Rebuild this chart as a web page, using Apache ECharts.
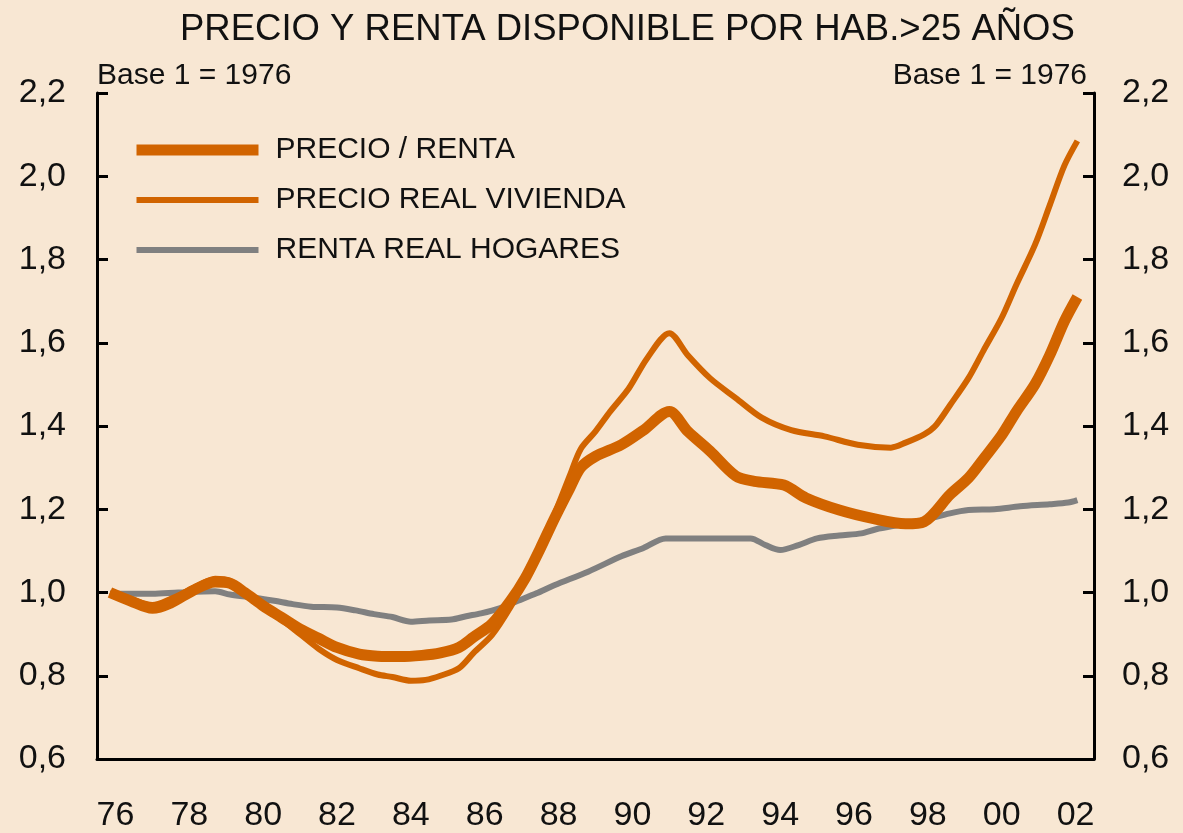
<!DOCTYPE html>
<html>
<head>
<meta charset="utf-8">
<script src="https://cdn.jsdelivr.net/npm/echarts@6/dist/echarts.min.js"></script>
<style>
  html, body { margin: 0; padding: 0; background: #f8e7d3; }
  #chart { width: 1183px; height: 833px; }
</style>
</head>
<body>
<div id="chart"></div>
<script>
// Year labels on the bottom axis (one category per calendar year)
const yearLabels = ['76','77','78','79','80','81','82','83','84','85','86','87','88','89',
  '90','91','92','93','94','95','96','97','98','99','00','01','02'];

// PRECIO / RENTA  (index, base 1976 = 1)
const precioRenta = [
  [1976.35, 1.000], [1976.9, 0.980], [1977.5, 0.962], [1978.0, 0.975], [1978.6, 1.005],
  [1979.2, 1.025], [1979.6, 1.022], [1980.0, 1.000], [1980.5, 0.968], [1981.0, 0.940],
  [1981.5, 0.912], [1982.0, 0.890], [1982.5, 0.868], [1983.1, 0.852], [1983.6, 0.847],
  [1984.2, 0.846], [1984.8, 0.849], [1985.3, 0.855], [1985.8, 0.868], [1986.2, 0.893],
  [1986.7, 0.925], [1987.2, 0.980], [1987.6, 1.035], [1988.0, 1.105], [1988.4, 1.180],
  [1988.8, 1.250], [1989.1, 1.300], [1989.5, 1.327], [1990.2, 1.355], [1990.8, 1.390],
  [1991.5, 1.435], [1992.0, 1.387], [1992.6, 1.340], [1993.3, 1.280], [1993.8, 1.267],
  [1994.6, 1.258], [1995.2, 1.227], [1996.1, 1.198], [1997.0, 1.178], [1997.9, 1.165],
  [1998.4, 1.170], [1999.1, 1.235], [1999.6, 1.275], [2000.0, 1.320], [2000.5, 1.378],
  [2000.9, 1.435], [2001.4, 1.500], [2001.8, 1.570], [2002.2, 1.652], [2002.55, 1.710]
];

// PRECIO REAL VIVIENDA
const precioReal = [
  [1976.35, 1.000], [1976.9, 0.985], [1977.5, 0.970], [1978.0, 0.985], [1978.6, 1.010],
  [1979.2, 1.033], [1979.6, 1.028], [1980.0, 1.003], [1980.5, 0.968], [1981.0, 0.935],
  [1981.5, 0.900], [1982.0, 0.865], [1982.5, 0.838], [1983.1, 0.818], [1983.6, 0.803],
  [1984.0, 0.797], [1984.5, 0.788], [1984.9, 0.790], [1985.3, 0.800], [1985.8, 0.818],
  [1986.2, 0.855], [1986.7, 0.898], [1987.2, 0.965], [1987.6, 1.030], [1988.0, 1.105],
  [1988.4, 1.190], [1988.8, 1.280], [1989.1, 1.345], [1989.5, 1.387], [1989.9, 1.435],
  [1990.4, 1.490], [1990.9, 1.563], [1991.5, 1.623], [1992.0, 1.570], [1992.6, 1.515],
  [1993.3, 1.467], [1994.0, 1.420], [1994.8, 1.390], [1995.7, 1.375], [1996.6, 1.355],
  [1997.5, 1.348], [1997.9, 1.360], [1998.4, 1.380], [1998.7, 1.400], [1999.1, 1.450],
  [1999.6, 1.515], [2000.0, 1.580], [2000.5, 1.660], [2000.9, 1.740], [2001.4, 1.835],
  [2001.8, 1.930], [2002.2, 2.026], [2002.55, 2.085]
];

// RENTA REAL HOGARES
const rentaReal = [
  [1976.35, 0.997], [1977.5, 0.997], [1978.2, 1.000], [1979.2, 1.003], [1979.6, 0.995],
  [1980.3, 0.987], [1980.8, 0.980], [1981.3, 0.972], [1981.8, 0.966], [1982.5, 0.964],
  [1983.0, 0.957], [1983.5, 0.948], [1984.0, 0.941], [1984.5, 0.930], [1985.0, 0.933],
  [1985.6, 0.935], [1986.0, 0.943], [1986.4, 0.950], [1986.9, 0.962], [1987.4, 0.980],
  [1987.9, 0.998], [1988.4, 1.018], [1989.3, 1.050], [1990.2, 1.087], [1990.8, 1.107],
  [1991.4, 1.130], [1992.5, 1.130], [1993.7, 1.130], [1994.1, 1.114], [1994.5, 1.102],
  [1995.0, 1.114], [1995.5, 1.130], [1996.1, 1.137], [1996.7, 1.142], [1997.1, 1.152],
  [1997.7, 1.162], [1998.3, 1.172], [1999.1, 1.190], [1999.6, 1.198], [2000.3, 1.200],
  [2001.0, 1.207], [2001.8, 1.212], [2002.3, 1.216], [2002.55, 1.222]
];

const seriesNames = ['PRECIO / RENTA', 'PRECIO REAL VIVIENDA', 'RENTA REAL HOGARES'];
const titleText = 'PRECIO Y RENTA DISPONIBLE POR HAB.>25 AÑOS';
const baseNote = 'Base 1 = 1976';

const FONT = '"Liberation Sans", Arial, sans-serif';
const INK = '#111111';
const ORANGE = '#d16400';
const GREY = '#808080';

const fmt = v => v.toFixed(1).replace('.', ',');

const yAxisCommon = {
  type: 'value', min: 0.6, max: 2.2, interval: 0.2,
  axisLine: { show: true, lineStyle: { color: '#000', width: 3 } },
  axisTick: { show: true, inside: true, length: 11, lineStyle: { color: '#000', width: 3 } },
  splitLine: { show: false },
  axisLabel: { formatter: fmt, fontFamily: FONT, fontSize: 34, color: INK }
};

const chart = echarts.init(document.getElementById('chart'), null, { renderer: 'canvas' });
chart.setOption({
  backgroundColor: '#f8e7d3',
  animation: false,
  title: {
    text: titleText, left: 175, top: 6,
    textStyle: { fontFamily: FONT, fontSize: 36.5, fontWeight: 'normal', color: INK }
  },
  graphic: [
    { type: 'text', left: 97, top: 61,
      style: { text: baseNote, font: '30px ' + FONT, fill: INK } },
    { type: 'text', right: 96, top: 61,
      style: { text: baseNote, font: '30px ' + FONT, fill: INK } }
  ],
  legend: {
    orient: 'vertical', left: 126, top: 130,
    itemWidth: 122, itemHeight: 30, itemGap: 20,
    // line-only keys: hide the marker symbol, keep the series line width
    itemStyle: { color: 'transparent', borderWidth: 0, opacity: 0 },
    lineStyle: { width: 'inherit' },
    textStyle: { fontFamily: FONT, fontSize: 30, color: INK, padding: [0, 0, 0, 12] },
    data: seriesNames
  },
  grid: { left: 97, right: 89, top: 93, bottom: 72, containLabel: false },
  xAxis: [
    {
      type: 'category', data: yearLabels, boundaryGap: true, position: 'bottom',
      axisLine: { lineStyle: { color: '#000', width: 3 } },
      axisTick: { inside: true, length: 11, interval: 1, lineStyle: { color: '#000', width: 3 } },
      axisLabel: { interval: 1, margin: 40, fontFamily: FONT, fontSize: 34, color: INK },
      splitLine: { show: false }
    },
    { type: 'value', min: 1976, max: 2003, show: false }
  ],
  yAxis: [
    Object.assign({}, yAxisCommon, { position: 'left',
      axisLabel: Object.assign({}, yAxisCommon.axisLabel, { margin: 31 }) }),
    Object.assign({}, yAxisCommon, { position: 'right',
      axisLabel: Object.assign({}, yAxisCommon.axisLabel, { margin: 28 }) })
  ],
  series: [
    { name: seriesNames[0], type: 'line', xAxisIndex: 1, yAxisIndex: 0, data: precioRenta,
      symbol: 'none', smooth: 0.3, lineStyle: { color: ORANGE, width: 11 }, itemStyle: { color: ORANGE }, z: 3 },
    { name: seriesNames[1], type: 'line', xAxisIndex: 1, yAxisIndex: 0, data: precioReal,
      symbol: 'none', smooth: 0.3, lineStyle: { color: ORANGE, width: 6 }, itemStyle: { color: ORANGE }, z: 2 },
    { name: seriesNames[2], type: 'line', xAxisIndex: 1, yAxisIndex: 0, data: rentaReal,
      symbol: 'none', smooth: 0.3, lineStyle: { color: GREY, width: 6 }, itemStyle: { color: GREY }, z: 1 }
  ]
});
</script>
</body>
</html>
